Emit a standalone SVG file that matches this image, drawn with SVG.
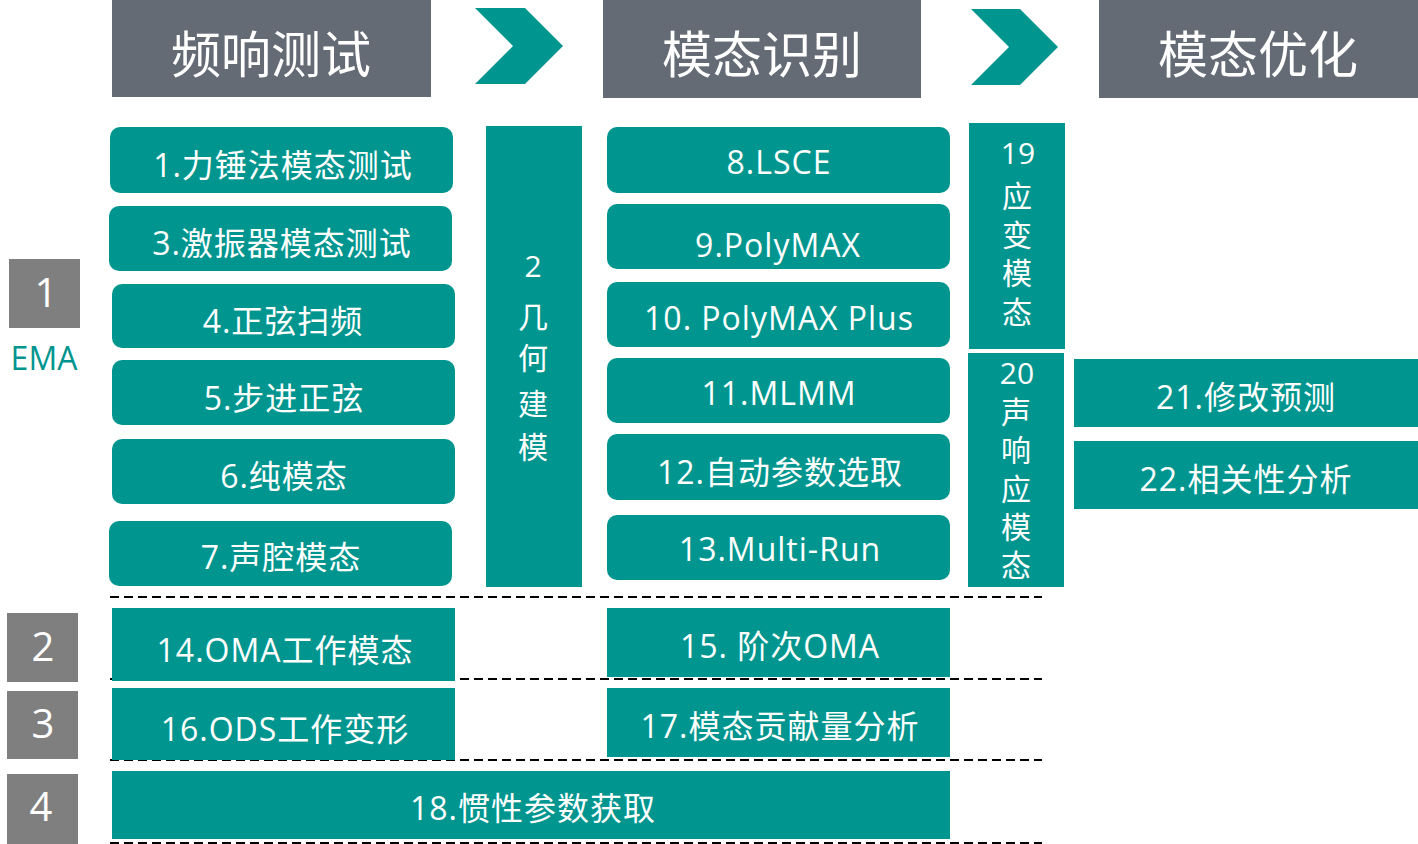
<svg xmlns="http://www.w3.org/2000/svg" width="1418" height="844" viewBox="0 0 1418 844">
<style>
.hd{fill:#646B74}
.tl{fill:#00968F}
.nb{fill:#7F7F7F}
text{font-family:"Open Sans","Noto Sans CJK SC",sans-serif;fill:#FFFFFF;text-anchor:middle}
.ht{font-size:50px}
.bt{font-size:32px;letter-spacing:1px}
.vt{font-size:30px}
.nt{font-size:40px}
.ema{font-size:32px;fill:#00968F}
.dash{stroke:#000;stroke-width:2;stroke-dasharray:9 5;fill:none}
</style>
<rect width="1418" height="844" fill="#FFFFFF"/>

<g id="connectors">
<polygon class="tl" points="475,8 525,8 563,46 525,84 475,84 513,46"/>
<polygon class="tl" points="971,9 1020,9 1058,47 1020,85 971,85 1009,47"/>
<line class="dash" x1="110" y1="597" x2="1042" y2="597"/>
<line class="dash" x1="110" y1="679" x2="1042" y2="679"/>
<line class="dash" x1="110" y1="760" x2="1042" y2="760"/>
<line class="dash" x1="110" y1="843" x2="1042" y2="843"/>
</g>

<g id="h1"><rect class="hd" x="112" y="0" width="319" height="97"/><text class="ht" x="271" y="73">频响测试</text></g>
<g id="h2"><rect class="hd" x="603" y="0" width="318" height="98"/><text class="ht" x="762" y="73">模态识别</text></g>
<g id="h3"><rect class="hd" x="1099" y="0" width="319" height="98"/><text class="ht" x="1258" y="73">模态优化</text></g>

<g id="n-ema"><rect class="nb" x="9" y="259" width="71" height="69"/><text class="nt" x="46" y="307">1</text><text class="ema" x="44" y="370">EMA</text></g>
<g id="n-2"><rect class="nb" x="7" y="613" width="71" height="69"/><text class="nt" x="43" y="661">2</text></g>
<g id="n-3"><rect class="nb" x="7" y="691" width="71" height="68"/><text class="nt" x="43" y="738">3</text></g>
<g id="n-4"><rect class="nb" x="7" y="774" width="71" height="70"/><text class="nt" x="41" y="821">4</text></g>

<g id="b1"><rect class="tl" x="110" y="127" width="343" height="66" rx="10"/><text class="bt" x="283" y="177">1.力锤法模态测试</text></g>
<g id="b3"><rect class="tl" x="109" y="206" width="343" height="65" rx="10"/><text class="bt" x="282" y="255">3.激振器模态测试</text></g>
<g id="b4"><rect class="tl" x="112" y="284" width="343" height="64" rx="10"/><text class="bt" x="283" y="333">4.正弦扫频</text></g>
<g id="b5"><rect class="tl" x="112" y="360" width="343" height="65" rx="10"/><text class="bt" x="284" y="410">5.步进正弦</text></g>
<g id="b6"><rect class="tl" x="112" y="439" width="343" height="65" rx="10"/><text class="bt" x="284" y="488">6.纯模态</text></g>
<g id="b7"><rect class="tl" x="109" y="521" width="343" height="65" rx="10"/><text class="bt" x="281" y="569">7.声腔模态</text></g>

<g id="b2"><rect class="tl" x="486" y="126" width="96" height="461"/>
<text class="vt" x="533"><tspan x="533" y="277">2</tspan><tspan x="533" y="328">几</tspan><tspan x="533" y="369">何</tspan><tspan x="533" y="415">建</tspan><tspan x="533" y="458">模</tspan></text></g>

<g id="b8"><rect class="tl" x="607" y="127" width="343" height="66" rx="10"/><text class="bt" x="779" y="174">8.LSCE</text></g>
<g id="b9"><rect class="tl" x="607" y="204" width="343" height="65" rx="10"/><text class="bt" x="778" y="257">9.PolyMAX</text></g>
<g id="b10"><rect class="tl" x="607" y="282" width="343" height="65" rx="10"/><text class="bt" x="779" y="330">10. PolyMAX Plus</text></g>
<g id="b11"><rect class="tl" x="607" y="358" width="343" height="65" rx="10"/><text class="bt" x="779" y="405">11.MLMM</text></g>
<g id="b12"><rect class="tl" x="607" y="434" width="343" height="66" rx="10"/><text class="bt" x="780" y="484">12.自动参数选取</text></g>
<g id="b13"><rect class="tl" x="607" y="515" width="343" height="65" rx="10"/><text class="bt" x="780" y="561">13.Multi-Run</text></g>

<g id="b19"><rect class="tl" x="969" y="123" width="96" height="226"/>
<text class="vt" x="1017"><tspan x="1018" y="164">19</tspan><tspan x="1017" y="207">应</tspan><tspan x="1017" y="246">变</tspan><tspan x="1017" y="284">模</tspan><tspan x="1017" y="323">态</tspan></text></g>
<g id="b20"><rect class="tl" x="968" y="353" width="96" height="234"/>
<text class="vt" x="1016"><tspan x="1017" y="384">20</tspan><tspan x="1016" y="423">声</tspan><tspan x="1016" y="461">响</tspan><tspan x="1016" y="500">应</tspan><tspan x="1016" y="538">模</tspan><tspan x="1016" y="576">态</tspan></text></g>

<g id="b21"><rect class="tl" x="1074" y="359" width="344" height="68"/><text class="bt" x="1246" y="409">21.修改预测</text></g>
<g id="b22"><rect class="tl" x="1074" y="441" width="344" height="68"/><text class="bt" x="1246" y="491">22.相关性分析</text></g>

<g id="b14"><rect class="tl" x="112" y="608" width="343" height="73"/><text class="bt" x="285" y="662">14.OMA工作模态</text></g>
<g id="b15"><rect class="tl" x="607" y="608" width="343" height="69"/><text class="bt" x="780" y="658">15. 阶次OMA</text></g>
<g id="b16"><rect class="tl" x="112" y="688" width="343" height="72"/><text class="bt" x="285" y="741">16.ODS工作变形</text></g>
<g id="b17"><rect class="tl" x="607" y="688" width="343" height="69"/><text class="bt" x="780" y="738">17.模态贡献量分析</text></g>
<g id="b18"><rect class="tl" x="112" y="771" width="838" height="68"/><text class="bt" x="533" y="820">18.惯性参数获取</text></g>
</svg>
